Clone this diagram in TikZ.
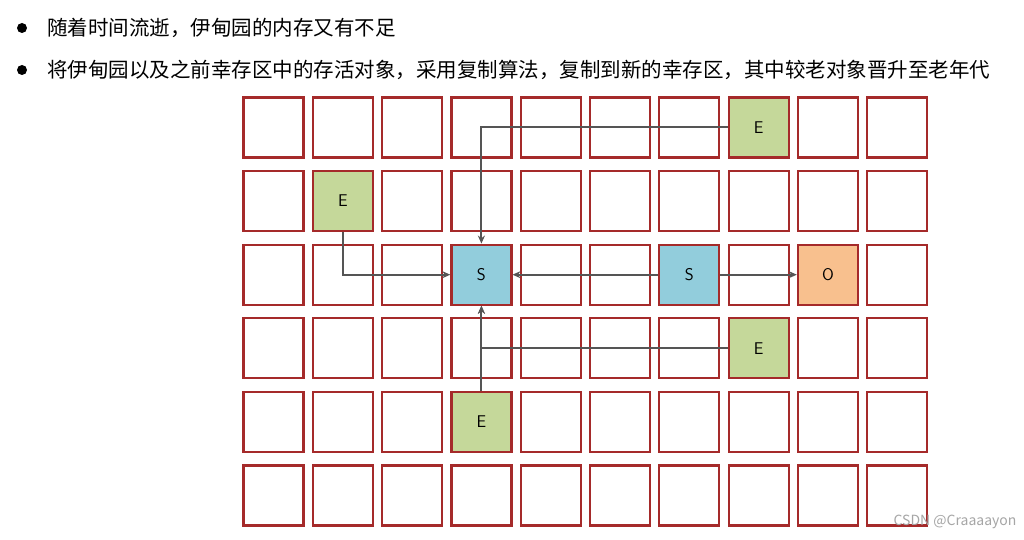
\documentclass[tikz,border=0pt]{standalone}
\usepackage{fontspec}
\setmainfont{Noto Sans CJK SC}
\usetikzlibrary{arrows.meta}
\definecolor{cellred}{HTML}{A52A2A}
\definecolor{egreen}{HTML}{C5D89A}
\definecolor{sblue}{HTML}{92CDDC}
\definecolor{oorange}{HTML}{F8C08E}
\definecolor{arr}{HTML}{555555}
\begin{document}
\begin{tikzpicture}[x=1pt,y=-1pt,
  cell/.style={draw=cellred,line width=2.2pt,minimum width=60pt,minimum height=60pt,inner sep=0pt,font=\fontsize{17}{19}\selectfont\sffamily},
  conn/.style={draw=arr,line width=2pt,-{Stealth[length=8pt,width=7pt]}}]
\useasboundingbox (0,0) rectangle (1024,540);
\fill[white] (0,0) rectangle (1024,540);
\fill (22,28) circle (5);
\fill (22,70) circle (5);
\node[anchor=west,inner sep=0pt,font=\fontsize{20.5}{24}\selectfont] (t1) at (47,28) {随着时间流逝，伊甸园的内存又有不足};
\node[anchor=west,inner sep=0pt,font=\fontsize{20.5}{24}\selectfont] (t2) at (47,70) {将伊甸园以及之前幸存区中的存活对象，采用复制算法，复制到新的幸存区，其中较老对象晋升至老年代};
\foreach \r in {0,...,5}{\foreach \c in {0,...,9}{
  \node[cell] (c\r\c) at ({273.5+69.3*\c},{127.5+73.6*\r}) {};}}
\node[cell,fill=egreen] (e07) at (c07) {E};
\node[cell,fill=egreen] (e11) at (c11) {E};
\node[cell,fill=sblue] (s23) at (c23) {S};
\node[cell,fill=sblue] (s26) at (c26) {S};
\node[cell,fill=oorange] (o28) at (c28) {O};
\node[cell,fill=egreen] (e37) at (c37) {E};
\node[cell,fill=egreen] (e43) at (c43) {E};
\draw[conn] (e07.west) -| (s23.north);
\draw[conn] (e11.south) |- (s23.west);
\draw[conn] (s26.west) -- (s23.east);
\draw[conn] (s26.east) -- (o28.west);
\draw[conn] (e37.west) -| (s23.south);
\draw[conn] (e43.north) -- (s23.south);
\node[anchor=east,text=gray!70,font=\fontsize{14}{16}\selectfont] (wm) at (1020,522) {CSDN @Craaaayon};
\end{tikzpicture}
\end{document}
